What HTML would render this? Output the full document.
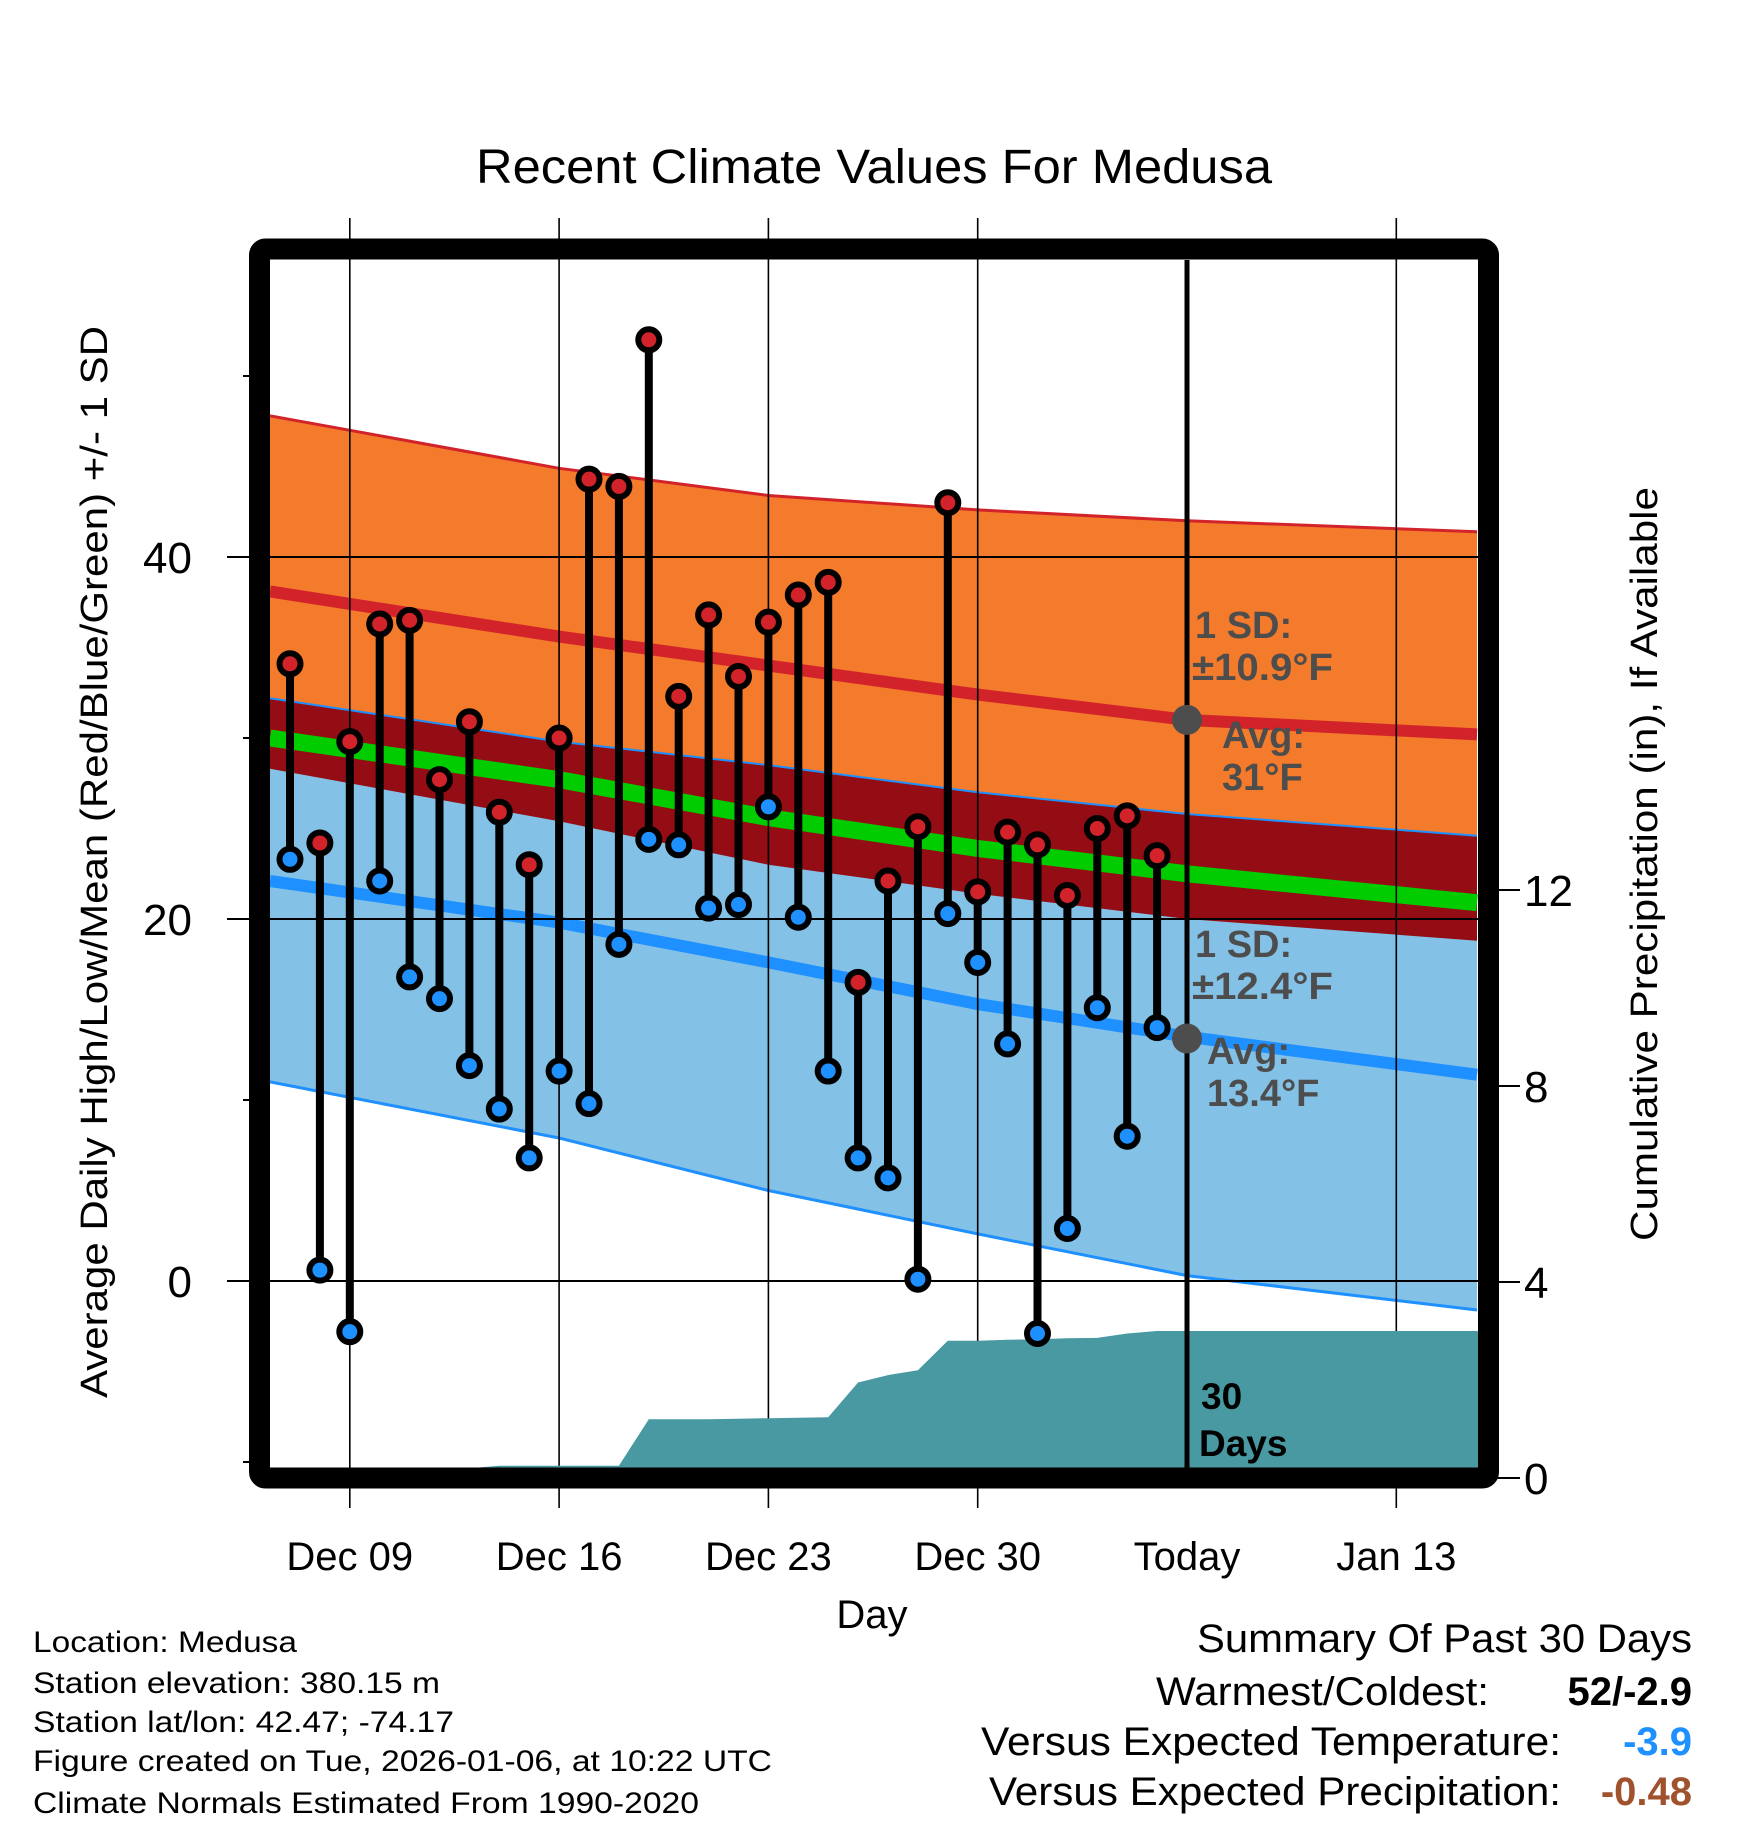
<!DOCTYPE html>
<html><head><meta charset="utf-8"><style>
html,body{margin:0;padding:0;background:#fff;}
svg{display:block;font-family:"Liberation Sans",Arial,sans-serif;}
</style></head><body>
<svg id="chart" width="1748" height="1828" viewBox="0 0 1748 1828" xmlns="http://www.w3.org/2000/svg">
<g id="fills"></g>
<g id="lines"></g>
<g id="grid"></g>
<g id="precip"></g>
<g id="stems"></g>
<g id="annot"></g>
<g id="frame"></g>
<g id="texts"></g>
</svg>
<script>
// ---- data ----
const highs = [34.1,24.2,29.8,36.3,36.5,27.7,30.9,25.9,23.0,30.0,44.3,43.9,52.0,32.3,36.8,33.4,36.4,37.9,38.6,16.5,22.1,25.1,43.0,21.5,24.8,24.1,21.3,25.0,25.7,23.5];
const lows  = [23.3,0.6,-2.8,22.1,16.8,15.6,11.9,9.5,6.8,11.6,9.8,18.6,24.4,24.1,20.6,20.8,26.2,20.1,11.6,6.8,5.7,0.1,20.3,17.6,13.1,-2.9,2.9,15.1,8.0,14.0];
const precipCum = [0,0,0,0,0,0,0.2,0.25,0.25,0.25,0.25,0.25,1.2,1.2,1.2,1.21,1.22,1.23,1.24,1.95,2.1,2.2,2.8,2.8,2.82,2.83,2.85,2.86,2.95,3.0];
const normDays = [-0.67,9,16,23,30,39.7];
const hiPlus  = [47.8,44.9,43.4,42.6,42.0,41.4];
const hiAvg   = [38.1,35.6,34.0,32.4,31.0,30.2];
const hiMinus = [28.3,25.4,23.0,21.4,20.0,18.8];
const loPlus  = [32.2,29.8,28.5,27.0,25.8,24.6];
const meanAvg = [30.0,27.7,25.6,23.9,22.5,20.9];
const loAvg   = [22.1,19.8,17.6,15.3,13.5,11.4];
const loMinus = [11.0,7.9,5.0,2.6,0.3,-1.6];
const xTickDays = [2,9,16,23,30,37];
const xTickLabels = ["Dec 09","Dec 16","Dec 23","Dec 30","Today","Jan 13"];
const yTicks = [0,20,40];
const yMinor = [-10,10,30,50];
const y2Ticks = [0,4,8,12];
const todayDay = 30;
const todayHiAvg = 31, todayLoAvg = 13.4;

// ---- axes ----
const X = d => 290 + d*29.9;
const Y = t => 1281 - t*18.1;
const Y2 = p => 1478 - p*49;
const L = 270, R = 1478, T = 260, B = 1468;
const NS = "http://www.w3.org/2000/svg";
function mk(tag, attrs, parent){const e=document.createElementNS(NS,tag);for(const k in attrs)e.setAttribute(k,attrs[k]);document.getElementById(parent).appendChild(e);return e;}
const pts = arr => normDays.map((d,i)=>X(Math.max(-0.67,Math.min(39.7,d))).toFixed(1)+","+Y(arr[i]).toFixed(1));
const rev = a => a.slice().reverse();
function band(top,bot,fill,name){
  const e = mk("polygon",{points:pts(top).concat(rev(pts(bot))).join(" "),fill:fill},"fills");
  
  
}
band(hiPlus,hiMinus,"#f47a2c","high-sd-band");
band(loPlus,loMinus,"#84c1e6","low-sd-band");
band(loPlus,hiMinus,"#940d14","overlap-band");
function line(arr,color,w,name){
  const e = mk("polyline",{points:pts(arr).join(" "),fill:"none",stroke:color,"stroke-width":w},"lines");
  
  
}
line(hiPlus,"#d2232a",3,"high-plus-sd-line");
line(loPlus,"#1e90ff",2,"low-plus-sd-line");
line(loMinus,"#1e90ff",3,"low-minus-sd-line");
line(meanAvg,"#00cc00",17,"mean-normal-line");
line(hiAvg,"#d2232a",12,"high-normal-line");
line(loAvg,"#1e90ff",12,"low-normal-line");

// gridlines
yTicks.forEach(t=>{
  const g=mk("line",{x1:227,x2:R,y1:Y(t),y2:Y(t),stroke:"#000","stroke-width":2},"grid");
  
  
  const tx=mk("text",{x:192,y:Y(t)+16,"text-anchor":"end","font-size":44},"texts");
  tx.textContent=t;
  
  
});
yMinor.forEach(t=>{
  const g=mk("line",{x1:243,x2:254,y1:Y(t),y2:Y(t),stroke:"#000","stroke-width":2},"grid");
  
  
});
y2Ticks.forEach(p=>{
  const g=mk("line",{x1:1490,x2:1520,y1:Y2(p),y2:Y2(p),stroke:"#000","stroke-width":2},"grid");
  
  
  const tx=mk("text",{x:1524,y:Y2(p)+16,"font-size":44},"texts");
  tx.textContent=p;
  
  
});
xTickDays.forEach((d,i)=>{
  if(d!==todayDay){
    const g=mk("line",{x1:X(d),x2:X(d),y1:218,y2:1508,stroke:"#000","stroke-width":1.6},"grid");
    
    
  }
  const tx=mk("text",{x:X(d),y:1570,"text-anchor":"middle","font-size":40},"texts");
  tx.textContent=xTickLabels[i];
  
  
});

// precipitation area
(function(){
  let p=[X(-0.67)+","+Y2(0)];
  precipCum.forEach((v,i)=>p.push(X(i).toFixed(1)+","+Y2(v).toFixed(1)));
  const last=precipCum[precipCum.length-1];
  p.push(R+","+Y2(last)); p.push(R+","+Y2(0));
  const e=mk("polygon",{points:p.join(" "),fill:"#4899a2"},"precip");
  
  
})();

// today line
(function(){
  const e=mk("line",{x1:X(todayDay),x2:X(todayDay),y1:T,y2:B,stroke:"#000","stroke-width":5},"stems");
  
  
})();

// stems and markers
highs.forEach((h,i)=>{
  const x=X(i);
  const s=mk("line",{x1:x,x2:x,y1:Y(h),y2:Y(lows[i]),stroke:"#000","stroke-width":8},"stems");
  
  
});
highs.forEach((h,i)=>{
  const x=X(i);
  const a=mk("circle",{cx:x,cy:Y(h),r:10.5,fill:"#d2232a",stroke:"#000","stroke-width":6},"stems");
  
  
  const b=mk("circle",{cx:x,cy:Y(lows[i]),r:10.5,fill:"#1e90ff",stroke:"#000","stroke-width":6},"stems");
  
  
});

// today avg dots
[todayHiAvg,todayLoAvg].forEach(v=>{
  const c=mk("circle",{cx:X(todayDay),cy:Y(v),r:15,fill:"#4d4d4d"},"annot");
  
  
});

// frame
(function(){
  const e=mk("rect",{x:259.5,y:249,width:1229,height:1229,fill:"none",stroke:"#000","stroke-width":21,rx:6},"frame");
  
  
})();
</script>
<svg style="position:absolute;left:0;top:0" width="1748" height="1828">
<g font-family="Liberation Sans, Arial, sans-serif">
<text x="874" y="183" text-anchor="middle" font-size="48" textLength="796" lengthAdjust="spacingAndGlyphs">Recent Climate Values For Medusa</text>
<text x="872" y="1628" text-anchor="middle" font-size="40">Day</text>
<text transform="translate(107,862) rotate(-90)" text-anchor="middle" font-size="38" textLength="1072" lengthAdjust="spacingAndGlyphs">Average Daily High/Low/Mean (Red/Blue/Green) +/- 1 SD</text>
<text transform="translate(1657,864) rotate(-90)" text-anchor="middle" font-size="38" textLength="754" lengthAdjust="spacingAndGlyphs">Cumulative Precipitation (in), If Available</text>
<g font-weight="bold" font-size="38" fill="#4d4d4d">
<text x="1195" y="638">1 SD:</text>
<text x="1192" y="680" textLength="141" lengthAdjust="spacingAndGlyphs">±10.9°F</text>
<text x="1222" y="748">Avg:</text>
<text x="1222" y="790">31°F</text>
<text x="1195" y="957">1 SD:</text>
<text x="1192" y="999" textLength="141" lengthAdjust="spacingAndGlyphs">±12.4°F</text>
<text x="1207" y="1064">Avg:</text>
<text x="1207" y="1106">13.4°F</text>
</g>
<text x="1201" y="1409" font-weight="bold" font-size="37">30</text>
<text x="1199" y="1456" font-weight="bold" font-size="37">Days</text>
<g font-size="30">
<text x="33" y="1652" textLength="264" lengthAdjust="spacingAndGlyphs">Location: Medusa</text>
<text x="33" y="1693" textLength="407" lengthAdjust="spacingAndGlyphs">Station elevation: 380.15 m</text>
<text x="33" y="1732" textLength="421" lengthAdjust="spacingAndGlyphs">Station lat/lon: 42.47; -74.17</text>
<text x="33" y="1771" textLength="739" lengthAdjust="spacingAndGlyphs">Figure created on Tue, 2026-01-06, at 10:22 UTC</text>
<text x="33" y="1813" textLength="666" lengthAdjust="spacingAndGlyphs">Climate Normals Estimated From 1990-2020</text>
</g>
<g font-size="40">
<text x="1692" y="1652" text-anchor="end" textLength="495" lengthAdjust="spacingAndGlyphs">Summary Of Past 30 Days</text>
<text x="1489" y="1705" text-anchor="end" textLength="333" lengthAdjust="spacingAndGlyphs">Warmest/Coldest:</text>
<text x="1692" y="1705" text-anchor="end" font-weight="bold">52/-2.9</text>
<text x="1561" y="1755" text-anchor="end" textLength="580" lengthAdjust="spacingAndGlyphs">Versus Expected Temperature:</text>
<text x="1692" y="1755" text-anchor="end" font-weight="bold" fill="#1e90ff">-3.9</text>
<text x="1561" y="1805" text-anchor="end" textLength="572" lengthAdjust="spacingAndGlyphs">Versus Expected Precipitation:</text>
<text x="1692" y="1805" text-anchor="end" font-weight="bold" fill="#a0522d">-0.48</text>
</g>
</g>
</svg>
</body></html>
